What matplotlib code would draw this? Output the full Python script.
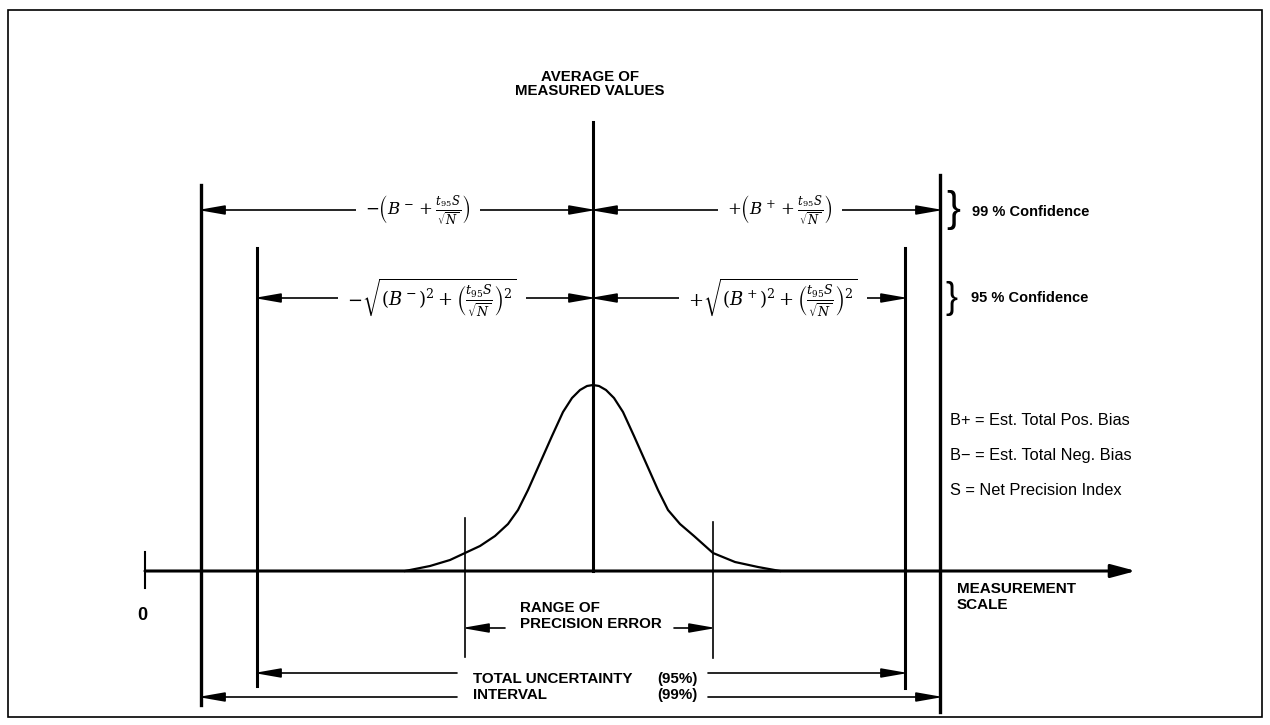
import matplotlib.pyplot as plt
from matplotlib.patches import Rectangle

plt.rcParams['font.family'] = ['Liberation Sans', 'DejaVu Sans']
plt.rcParams['mathtext.fontset'] = 'dejavuserif'

# positions on the measurement scale (diagram pixels)
zero_x = 145
avg_x = 593
ci99 = [201, 940]
ci95 = [257, 905]
precision = [465, 713]
axis_y = 571

# bell curve (x, y)
curve_x = [405, 430, 450, 465, 480, 495, 508, 518, 528, 540, 552, 563, 572, 580,
           587, 593, 599, 606, 614, 623, 634, 646, 658, 668, 680, 694, 713, 735, 758, 780]
curve_y = [571, 566, 560, 553, 546, 536, 524, 510, 490, 463, 436, 412, 398, 390,
           386, 385, 386, 390, 398, 412, 436, 463, 490, 510, 524, 536, 553, 562, 567, 571]

formula99 = [r"$-\left(B^- + \frac{t_{95}S}{\sqrt{N}}\right)$",
             r"$+\left(B^+ + \frac{t_{95}S}{\sqrt{N}}\right)$"]
formula95 = [r"$-\sqrt{\left(B^-\right)^2 + \left(\frac{t_{95}S}{\sqrt{N}}\right)^2}$",
             r"$+\sqrt{\left(B^+\right)^2 + \left(\frac{t_{95}S}{\sqrt{N}}\right)^2}$"]
legend_lines = ["B+ = Est. Total Pos. Bias", "B\u2212 = Est. Total Neg. Bias",
                "S = Net Precision Index"]

fig = plt.figure(figsize=(12.7, 7.25), dpi=100)
ax = fig.add_axes([0, 0, 1, 1])
ax.set_xlim(0, 1270)
ax.set_ylim(725, 0)
ax.axis('off')

ax.add_patch(Rectangle((8, 10), 1254, 707, fill=False, lw=1.2, color='black'))

HEAD = '-|>,head_length=1.6,head_width=0.28'


def arrow(x0, x1, y, lw=1.2, scale=10):
    # arrow drawn from x0 with its head at x1 (tip pushed 3px to meet the line)
    tip = x1 + (3 if x1 > x0 else -3)
    ax.annotate('', xy=(tip, y), xytext=(x0, y),
                arrowprops=dict(arrowstyle=HEAD, lw=lw, color='black',
                                mutation_scale=scale, shrinkA=0, shrinkB=0))


def dim_line(xa, xb, y, label, xt, size=12):
    arrow(xt, xa, y)
    arrow(xt, xb, y)
    ax.text(xt, y, label, ha='center', va='center', fontsize=size,
            bbox=dict(facecolor='white', edgecolor='none', pad=7))


# measurement axis
ax.annotate('', xy=(1136, axis_y), xytext=(zero_x, axis_y),
            arrowprops=dict(arrowstyle='-|>,head_length=0.75,head_width=0.2',
                            lw=2.2, color='black', mutation_scale=20,
                            shrinkA=0, shrinkB=0))
ax.plot([zero_x, zero_x], [552, 588], color='black', lw=1.5)
ax.text(142, 615, "0", ha='center', va='center', fontsize=13, fontweight='bold')

# vertical lines
ax.plot([avg_x, avg_x], [122, axis_y], color='black', lw=2.2)
ax.plot([ci99[0], ci99[0]], [185, 705], color='black', lw=2.4)
ax.plot([ci99[1], ci99[1]], [175, 712], color='black', lw=2.4)
ax.plot([ci95[0], ci95[0]], [248, 686], color='black', lw=2.2)
ax.plot([ci95[1], ci95[1]], [248, 688], color='black', lw=2.2)
ax.plot([precision[0], precision[0]], [518, 657], color='black', lw=1.2)
ax.plot([precision[1], precision[1]], [522, 658], color='black', lw=1.2)

# bell curve
ax.plot(curve_x, curve_y, color='black', lw=1.6)

# confidence dimension lines
dim_line(ci99[0], avg_x, 210, formula99[0], 418)
dim_line(avg_x, ci99[1], 210, formula99[1], 780)
dim_line(ci95[0], avg_x, 298, formula95[0], 432, 13)
dim_line(avg_x, ci95[1], 298, formula95[1], 773, 13)

ax.text(953, 210, "}", ha='center', va='center', fontsize=30, fontweight='light')
ax.text(972, 212, "99 % Confidence", ha='left', va='center', fontsize=10.5,
        fontweight='bold')
ax.text(951, 298, "}", ha='center', va='center', fontsize=26, fontweight='light')
ax.text(971, 298, "95 % Confidence", ha='left', va='center', fontsize=10.5,
        fontweight='bold')

for i, line in enumerate(legend_lines):
    ax.text(950, 420 + i * 35, line, ha='left', va='center', fontsize=11.8)

ax.text(590, 84, "AVERAGE OF\nMEASURED VALUES", ha='center', va='center',
        fontsize=10.8, fontweight='bold', linespacing=1.0)
ax.text(957, 597, "MEASUREMENT\nSCALE", ha='left', va='center',
        fontsize=11, fontweight='bold', linespacing=1.2)

# range of precision error
ax.text(520, 616, "RANGE OF\nPRECISION ERROR", ha='left', va='center',
        fontsize=10.9, fontweight='bold', linespacing=1.2)
arrow(505, precision[0], 628)
arrow(674, precision[1], 628)

# total uncertainty interval
ax.text(473, 687, "TOTAL UNCERTAINTY\nINTERVAL", ha='left', va='center',
        fontsize=10.9, fontweight='bold', linespacing=1.2)
ax.text(657, 687, "(95%)\n(99%)", ha='left', va='center',
        fontsize=10.9, fontweight='bold', linespacing=1.2)
arrow(457, ci95[0], 673)
arrow(708, ci95[1], 673)
arrow(457, ci99[0], 697)
arrow(708, ci99[1], 697)

plt.savefig("out.png", dpi=100)
